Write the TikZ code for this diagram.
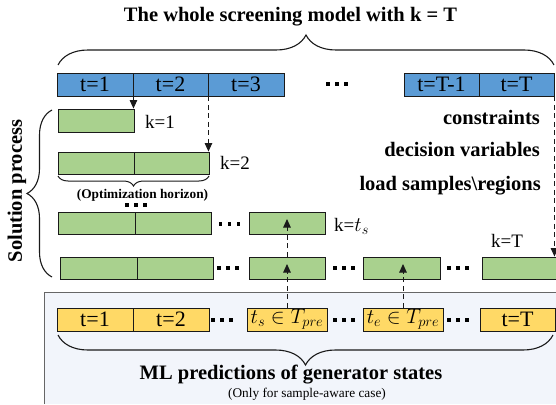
\documentclass[tikz,border=0pt]{standalone}
\usepackage{fontspec}
\setmainfont{Liberation Serif}
\usetikzlibrary{decorations.pathreplacing,arrows.meta,calc}
\definecolor{cblue}{HTML}{5B9BD5}
\definecolor{cgreen}{HTML}{A9D18E}
\definecolor{cyellow}{HTML}{FFD966}
\definecolor{cbg}{HTML}{F2F5FB}
\definecolor{cline}{HTML}{1A1A1A}
\newcommand\cellbox[7]{\node[cell,fill=#6,minimum width={#4-#2},minimum height={#5-#3}] (#1) at ({(#2+#4)/2},{(#3+#5)/2}) {#7};}
\newcommand\tdots{\rule{3.5pt}{3.5pt}\hspace{5.5pt}\rule{3.5pt}{3.5pt}\hspace{5.5pt}\rule{3.5pt}{3.5pt}}
\newcommand\boxfont{\fontsize{22}{24}\selectfont}
\newcommand\mfont{\fontsize{20}{22}\selectfont}
\tikzset{
  cell/.style={draw=cline,line width=0.9pt,inner sep=0pt,font=\boxfont},
  dotsnode/.style={inner sep=0pt,outer sep=0pt},
  boldlab/.style={font=\fontsize{20.5}{24}\selectfont\bfseries,inner sep=0pt},
  klab/.style={font=\fontsize{19}{22}\selectfont,inner sep=0pt},
  bracestyle/.style={draw=cline,line width=1.1pt,decorate},
  dasharrow/.style={draw=cline,line width=1pt,dash pattern=on 5pt off 3.5pt,-{Triangle[width=7.5pt,length=8.5pt]}},
  solidarrow/.style={draw=cline,line width=1pt,-{Triangle[width=7.5pt,length=8.5pt]}}
}
\begin{document}
\begin{tikzpicture}[x=1pt,y=-1pt]
\useasboundingbox (0,0) rectangle (556,404);
% background region
\fill[cbg] (44,292) rectangle (556,404);
\draw[gray!80!black,line width=0.7pt] (44,404) |- (556,292);
% title
\node[boldlab] (title) at (290.5,17) {The whole screening model with k = T};
\draw[bracestyle,decoration={brace,amplitude=30pt,aspect=0.5}] (58,65) -- (554,65);
% blue row
\cellbox{b1}{57}{73}{133}{96}{cblue}{t=1}
\cellbox{b2}{133}{73}{208}{96}{cblue}{t=2}
\cellbox{b3}{208}{73}{284}{96}{cblue}{t=3}
\node[dotsnode] (d0) at (337,84) {\tdots};
\cellbox{bT1}{404}{73}{479}{96}{cblue}{t=T-1}
\cellbox{bT}{479}{73}{554}{96}{cblue}{t=T}
% right texts
\node[boldlab,anchor=east] (c1) at (540,117) {constraints};
\node[boldlab,anchor=east] (c2) at (540,149) {decision variables};
\node[boldlab,anchor=east] (c3) at (541,186) {load samples\textbackslash regions};
% solution process
\node[boldlab,rotate=90] (sp) at (17,191) {Solution process};
\draw[bracestyle,decoration={brace,amplitude=25pt,aspect=0.5}] (52,277) -- (52,110);
% k=1
\cellbox{g11}{58}{109}{134}{132}{cgreen}{}
\node[klab] (k1) at (160,122) {k=1};
% k=2
\cellbox{g21}{58}{152}{134}{174}{cgreen}{}
\cellbox{g22}{134}{152}{209}{174}{cgreen}{}
\node[klab] (k2) at (235,163) {k=2};
\draw[bracestyle,line width=1pt,decoration={brace,amplitude=10pt,aspect=0.5}] (209,176) -- (58,176);
\node[inner sep=0pt,font=\fontsize{13.3}{15}\selectfont\bfseries] (oh) at (142.5,195) {(Optimization horizon)};
\node[dotsnode] (d1) at (136,205) {\tdots};
% k=ts
\cellbox{g31}{58}{212}{135}{234}{cgreen}{}
\cellbox{g32}{135}{212}{211}{234}{cgreen}{}
\node[dotsnode] (d2) at (229.5,224) {\tdots};
\cellbox{g33}{249}{212}{325}{234}{cgreen}{}
\node[klab,anchor=west] (k3) at (334,226) {k=\mfont$t_s$};
% k=T
\cellbox{gB1}{60}{257}{137}{279}{cgreen}{}
\cellbox{gB2}{137}{257}{213}{279}{cgreen}{}
\node[dotsnode] (d3) at (228,268) {\tdots};
\cellbox{gB3}{249}{257}{325}{279}{cgreen}{}
\node[dotsnode] (d4) at (344,268) {\tdots};
\cellbox{gB4}{363}{257}{440}{279}{cgreen}{}
\node[dotsnode] (d5) at (458,268) {\tdots};
\cellbox{gB5}{482}{257}{557}{279}{cgreen}{}
\node[klab] (kT) at (507,241) {k=T};
% yellow row
\cellbox{y1}{57}{308}{133}{331}{cyellow}{t=1}
\cellbox{y2}{133}{308}{209}{331}{cyellow}{t=2}
\node[dotsnode] (d6) at (222,320) {\tdots};
\cellbox{ys}{247}{308}{327}{331}{cyellow}{\mfont$t_s\in T_{pre}$}
\node[dotsnode] (d7) at (344,320) {\tdots};
\cellbox{ye}{363}{308}{443}{331}{cyellow}{\mfont$t_e\in T_{pre}$}
\node[dotsnode] (d8) at (458,320) {\tdots};
\cellbox{yT}{480}{308}{555}{331}{cyellow}{t=T}
\draw[bracestyle,decoration={brace,amplitude=30pt,aspect=0.5}] (553,335) -- (58,335);
\node[boldlab] (ml) at (291,375) {ML predictions of generator states};
\node[inner sep=0pt,font=\fontsize{13.3}{15}\selectfont] (only) at (307,394) {(Only for sample-aware case)};
% connectors
\draw[solidarrow] (b1.south east) -- (b1.south east |- g11.north);
\draw[dasharrow] (b2.south east) -- (b2.south east |- g22.north);
\draw[dasharrow] (bT.south east) -- (bT.south east |- gB5.north);
\draw[dasharrow] (ys.north) -- ($(ys.north |- gB3.center)+(0,-4)$);
\draw[dasharrow] (gB3.north) -- ($(g33.center)+(0,-4)$);
\draw[dasharrow] (ye.north) -- ($(ye.north |- gB4.center)+(0,-4)$);
\end{tikzpicture}
\end{document}
